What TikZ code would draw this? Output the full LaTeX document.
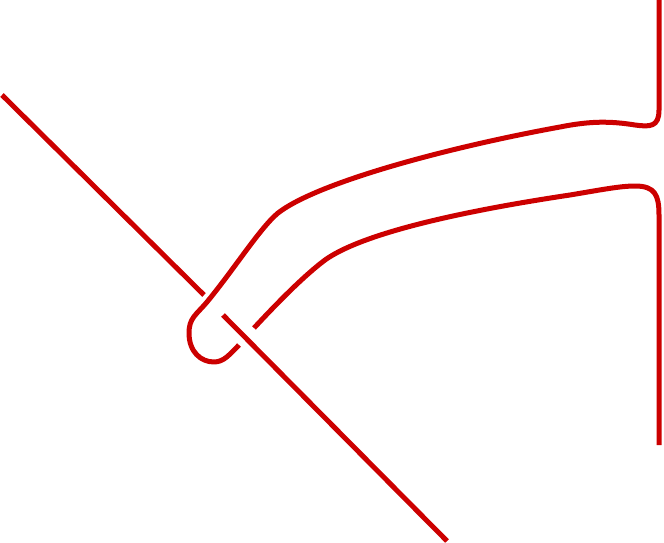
\documentclass[tikz,border=0pt]{standalone}
\begin{document}
\begin{tikzpicture}[x=1pt,y=-1pt,strand/.style={draw=knotred,line width=5pt,line join=round}]
\definecolor{knotred}{HTML}{CC0000}
\useasboundingbox (0,0) rectangle (664,543);
% straight strand
\coordinate (a1) at (2,95);
\coordinate (a2) at (204,295);
\coordinate (b1) at (223,315);
\coordinate (b2) at (447,541);
\draw[strand] (a1) -- (a2);
\draw[strand] (b1) -- (b2);
% upper strand with loop
\coordinate (u0) at (659,0);
\coordinate (u1) at (659,110);
\coordinate (u2) at (635,125);
\coordinate (u3) at (560,127);
\coordinate (u4) at (278,213);
\coordinate (u5) at (207,302);
\coordinate (u6) at (189,333);
\coordinate (u7) at (214,362);
\coordinate (u8) at (239,345);
\draw[strand] (u0) -- (u1) .. controls (659,127) and (650,127) .. (u2)
  .. controls (610,121) and (590,121) .. (u3)
  .. controls (450,147) and (318,182) .. (u4)
  .. controls (260,228) and (235,268) .. (u5)
  .. controls (196,315) and (189,318) .. (u6)
  .. controls (189,352) and (201,362) .. (u7)
  .. controls (224,362) and (230,354) .. (u8);
% lower strand
\coordinate (l0) at (254,328);
\coordinate (l1) at (325,260);
\coordinate (l2) at (570,195);
\coordinate (l3) at (635,186);
\coordinate (l4) at (659,215);
\coordinate (l5) at (659,445);
\draw[strand] (l0) .. controls (280,300) and (305,275) .. (l1)
  .. controls (360,235) and (450,213) .. (l2)
  .. controls (600,190) and (620,186) .. (l3)
  .. controls (655,186) and (659,195) .. (l4) -- (l5);
\end{tikzpicture}
\end{document}
